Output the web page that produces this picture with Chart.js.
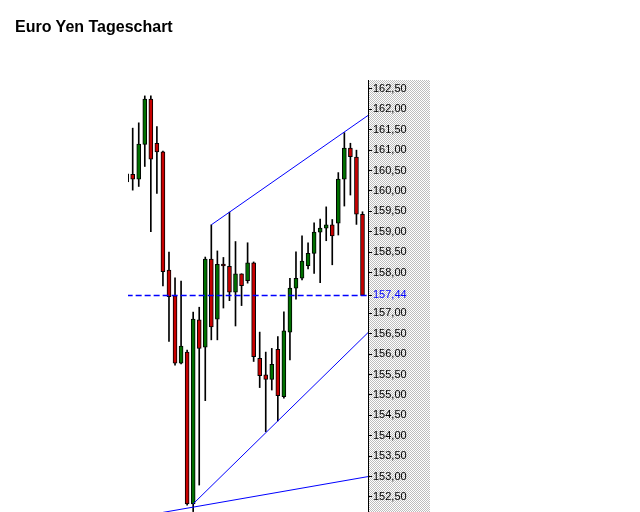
<!DOCTYPE html>
<html>
<head>
<meta charset="utf-8">
<script src="https://cdn.jsdelivr.net/npm/chart.js@4.4.1/dist/chart.umd.min.js"></script>
<style>
  html, body { margin: 0; padding: 0; background: #fff; }
  #wrap { position: relative; width: 640px; height: 512px; }
  #title { position: absolute; left: 15px; top: 18px; font: bold 16px "Liberation Sans", Arial, sans-serif; color: #000; }
  canvas { position: absolute; left: 0; top: 0; }
</style>
</head>
<body>
<div id="wrap">
  <canvas id="chart" width="640" height="512"></canvas>
  <div id="title">Euro Yen Tageschart</div>
</div>
<script>
// Daily candles, oldest first (first one is cut off by the left edge)
const opens  = [160.42, 160.41, 160.29, 161.14, 162.25, 161.17, 160.96, 158.06, 157.43, 155.78,
                156.05, 152.33, 156.84, 156.17, 158.33, 156.86, 158.21, 158.15, 157.52, 157.97,
                157.80, 158.24, 155.90, 155.49, 155.38, 156.12, 154.96, 156.54, 157.62, 157.86,
                158.17, 158.47, 158.99, 159.09, 159.17, 159.21, 160.29, 161.05, 160.83, 159.43];
const highs  = [160.42, 161.54, 161.67, 162.33, 162.33, 161.58, 160.98, 158.50, 157.87, 157.79,
                156.10, 157.03, 157.15, 158.38, 159.17, 158.53, 158.37, 159.48, 158.76, 157.97,
                158.73, 158.26, 156.54, 156.05, 156.14, 156.43, 157.04, 157.86, 158.51, 158.90,
                158.73, 159.22, 159.31, 159.61, 159.30, 160.45, 161.43, 161.17, 161.00, 159.49];
const lows   = [160.22, 160.02, 160.11, 160.60, 159.00, 159.94, 157.67, 156.31, 155.73, 155.76,
                152.30, 152.14, 152.79, 154.86, 156.35, 156.35, 157.13, 157.31, 156.69, 157.19,
                157.74, 155.82, 155.18, 154.10, 155.12, 154.36, 154.92, 155.86, 157.35, 157.82,
                158.09, 157.98, 157.75, 158.78, 158.19, 158.92, 159.63, 159.90, 159.18, 157.44];
const closes = [160.22, 160.29, 161.15, 162.25, 160.78, 160.96, 158.02, 157.41, 155.78, 156.20,
                152.33, 156.86, 156.14, 158.33, 156.67, 158.20, 158.16, 157.52, 157.97, 157.68,
                158.24, 155.94, 155.47, 155.38, 155.75, 154.98, 156.57, 157.62, 157.86, 158.28,
                158.47, 158.99, 159.09, 159.17, 158.90, 160.29, 161.05, 160.84, 159.43, 157.44];

// Last close, marked with a dashed line and a blue axis label
const lastPrice = 157.44;

// Trend lines: [start, end] as {x: candle index, y: price}
const upperTrend  = [{ x: 14, y: 159.17 }, { x: 40, y: 161.86 }];
const lowerTrend  = [{ x: 11, y: 152.33 }, { x: 40, y: 156.54 }];
const bottomTrend = [{ x: 6,  y: 152.12 }, { x: 40, y: 153.00 }];

// Axis ticks (157,50 is replaced by the last price)
const tickValues = [162.5, 162, 161.5, 161, 160.5, 160, 159.5, 159, 158.5, 158,
                    157.44, 157, 156.5, 156, 155.5, 155, 154.5, 154, 153.5, 153, 152.5];

const UP = '#007000';
const DOWN = '#c80000';
const BLUE = '#0000ff';

const wicks = highs.map((h, i) => ({ x: i, y: [lows[i], h] }));
const bodies = opens.map((o, i) => ({ x: i, y: [o, closes[i]] }));
const bodyColors = opens.map((o, i) => closes[i] >= o ? UP : DOWN);

// dotted grey strip behind the price axis
const axisShade = {
    id: 'axisShade',
    beforeDraw(chart) {
        const { ctx, chartArea } = chart;
        const y = chart.scales.y;
        const p = document.createElement('canvas');
        p.width = 2; p.height = 2;
        const pc = p.getContext('2d');
        pc.fillStyle = '#ffffff';
        pc.fillRect(0, 0, 2, 2);
        pc.fillStyle = '#bdbdbd';
        pc.fillRect(0, 0, 1, 1);
        pc.fillRect(1, 1, 1, 1);
        ctx.save();
        ctx.fillStyle = ctx.createPattern(p, 'repeat');
        ctx.fillRect(y.left, chartArea.top, y.right - y.left, chartArea.bottom - chartArea.top);
        ctx.restore();
    }
};

new Chart(document.getElementById('chart').getContext('2d'), {
    type: 'bar',
    data: {
        datasets: [
            {
                type: 'line',
                data: [{ x: 0, y: lastPrice }, { x: 40, y: lastPrice }],
                borderColor: BLUE,
                borderWidth: 1.5,
                borderDash: [6, 3],
                pointRadius: 0,
                clip: 0,
                order: -1
            },
            {
                type: 'line',
                data: upperTrend,
                borderColor: BLUE,
                borderWidth: 1,
                pointRadius: 0,
                clip: 0,
                order: -1
            },
            {
                type: 'line',
                data: lowerTrend,
                borderColor: BLUE,
                borderWidth: 1,
                pointRadius: 0,
                clip: 0,
                order: -1
            },
            {
                type: 'line',
                data: bottomTrend,
                borderColor: BLUE,
                borderWidth: 1,
                pointRadius: 0,
                clip: 0,
                order: -1
            },
            {
                data: bodies,
                backgroundColor: bodyColors,
                borderColor: '#000',
                borderWidth: 1,
                borderSkipped: false,
                barThickness: 4,
                grouped: false,
                order: 0
            },
            {
                data: wicks,
                backgroundColor: '#000',
                borderWidth: 0,
                barThickness: 1,
                grouped: false,
                order: 1
            }
        ]
    },
    options: {
        responsive: false,
        animation: false,
        layout: { padding: { left: 128, right: 210, top: 80, bottom: 0 } },
        plugins: {
            legend: { display: false },
            tooltip: { enabled: false },
            title: { display: false }
        },
        scales: {
            x: {
                type: 'linear',
                min: 0.223,
                max: 39.91,
                offset: false,
                display: false
            },
            y: {
                type: 'linear',
                position: 'right',
                min: 152.13,
                max: 162.72,
                beginAtZero: false,
                afterBuildTicks: (s) => { s.ticks = tickValues.map(v => ({ value: v })); },
                afterFit: (s) => { s.width = 62; s.paddingTop = 0; s.paddingBottom = 0; },
                border: { display: true, color: '#000', width: 1 },
                grid: { drawOnChartArea: false, drawTicks: true, tickLength: 4, color: '#000', lineWidth: 1 },
                ticks: {
                    padding: 1,
                    color: (c) => (c.tick && c.tick.value === lastPrice) ? BLUE : '#000',
                    font: { family: 'Liberation Sans, Arial, sans-serif', size: 11 },
                    callback: (v) => v.toFixed(2).replace('.', ',')
                }
            }
        }
    },
    plugins: [axisShade]
});
</script>
</body>
</html>
